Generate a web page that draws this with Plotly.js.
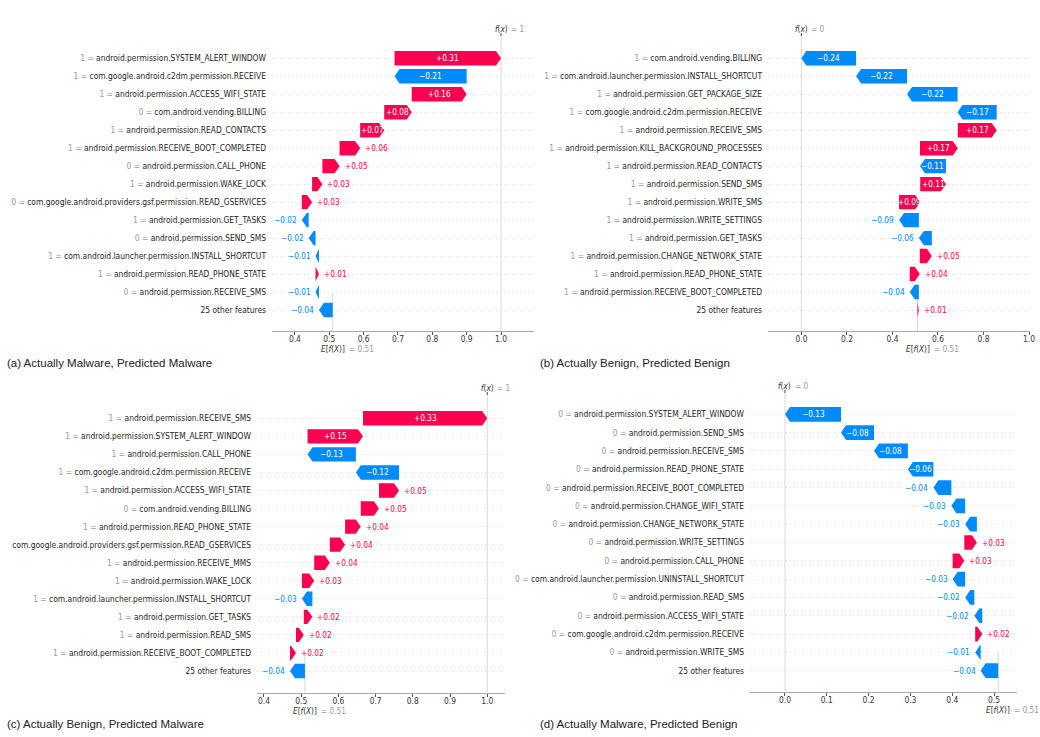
<!DOCTYPE html>
<html><head><meta charset="utf-8">
<script src="https://cdn.plot.ly/plotly-3.0.1.min.js"></script>
<style>html,body{margin:0;padding:0;background:#fff}</style>
</head><body><div id="chart" style="width:1040px;height:737px"></div>
<script>
// ---------- DATA (rows listed top to bottom) ----------
const a_caption = "(a) Actually Malware, Predicted Malware";
const a_base = 0.51;
const a_features = ["android.permission.SYSTEM_ALERT_WINDOW","com.google.android.c2dm.permission.RECEIVE","android.permission.ACCESS_WIFI_STATE","com.android.vending.BILLING","android.permission.READ_CONTACTS","android.permission.RECEIVE_BOOT_COMPLETED","android.permission.CALL_PHONE","android.permission.WAKE_LOCK","com.google.android.providers.gsf.permission.READ_GSERVICES","android.permission.GET_TASKS","android.permission.SEND_SMS","com.android.launcher.permission.INSTALL_SHORTCUT","android.permission.READ_PHONE_STATE","android.permission.RECEIVE_SMS","25 other features"];
const a_featureValues = ["1","1","1","0","1","1","0","1","0","1","0","1","1","0",""];
const a_shap = [0.31,-0.21,0.16,0.08,0.07,0.06,0.05,0.03,0.03,-0.02,-0.02,-0.01,0.01,-0.01,-0.04];
const a_ticks = [0.4,0.5,0.6,0.7,0.8,0.9,1.0];

const b_caption = "(b) Actually Benign, Predicted Benign";
const b_base = 0.51;
const b_features = ["com.android.vending.BILLING","com.android.launcher.permission.INSTALL_SHORTCUT","android.permission.GET_PACKAGE_SIZE","com.google.android.c2dm.permission.RECEIVE","android.permission.RECEIVE_SMS","android.permission.KILL_BACKGROUND_PROCESSES","android.permission.READ_CONTACTS","android.permission.SEND_SMS","android.permission.WRITE_SMS","android.permission.WRITE_SETTINGS","android.permission.GET_TASKS","android.permission.CHANGE_NETWORK_STATE","android.permission.READ_PHONE_STATE","android.permission.RECEIVE_BOOT_COMPLETED","25 other features"];
const b_featureValues = ["1","1","1","1","1","1","1","1","1","1","1","1","1","1",""];
const b_shap = [-0.2405,-0.224,-0.222,-0.172,0.171,0.166,-0.114,0.113,0.093,-0.087,-0.057,0.053,0.044,-0.04,0.006];
const b_ticks = [0.0,0.2,0.4,0.6,0.8,1.0];

const c_caption = "(c) Actually Benign, Predicted Malware";
const c_base = 0.51;
const c_features = ["android.permission.RECEIVE_SMS","android.permission.SYSTEM_ALERT_WINDOW","android.permission.CALL_PHONE","com.google.android.c2dm.permission.RECEIVE","android.permission.ACCESS_WIFI_STATE","com.android.vending.BILLING","android.permission.READ_PHONE_STATE","com.google.android.providers.gsf.permission.READ_GSERVICES","android.permission.RECEIVE_MMS","android.permission.WAKE_LOCK","com.android.launcher.permission.INSTALL_SHORTCUT","android.permission.GET_TASKS","android.permission.READ_SMS","android.permission.RECEIVE_BOOT_COMPLETED","25 other features"];
const c_featureValues = ["1","1","1","1","1","0","1","","1","1","1","1","1","1",""];
const c_shap = [0.334,0.149,-0.13,-0.116,0.054,0.049,0.042,0.041,0.042,0.033,-0.028,0.023,0.021,0.016,-0.04];
const c_ticks = [0.4,0.5,0.6,0.7,0.8,0.9,1.0];

const d_caption = "(d) Actually Malware, Predicted Benign";
const d_base = 0.51;
const d_features = ["android.permission.SYSTEM_ALERT_WINDOW","android.permission.SEND_SMS","android.permission.RECEIVE_SMS","android.permission.READ_PHONE_STATE","android.permission.RECEIVE_BOOT_COMPLETED","android.permission.CHANGE_WIFI_STATE","android.permission.CHANGE_NETWORK_STATE","android.permission.WRITE_SETTINGS","android.permission.CALL_PHONE","com.android.launcher.permission.UNINSTALL_SHORTCUT","android.permission.READ_SMS","android.permission.ACCESS_WIFI_STATE","com.google.android.c2dm.permission.RECEIVE","android.permission.WRITE_SMS","25 other features"];
const d_featureValues = ["0","0","0","0","0","0","0","0","0","0","0","0","0","0",""];
const d_shap = [-0.134,-0.079,-0.081,-0.061,-0.043,-0.033,-0.028,0.03,0.028,-0.03,-0.022,-0.019,0.017,-0.013,-0.042];
const d_ticks = [0.0,0.1,0.2,0.3,0.4,0.5];

// ---------- STYLE / LAYOUT ----------
const W = 1040, H = 737;
const RED = '#ff0051', BLUE = '#008bfb';
const FONT = 'DejaVu Sans Condensed, DejaVu Sans, sans-serif';
const CAP_FONT = 'Liberation Sans, Arial, sans-serif';
const HALF = 0.4, HEAD_PX = 5, FIT_PX = 21;

const panels = [
  {features:a_features, fv:a_featureValues, shap:a_shap, base:a_base, ticks:a_ticks, caption:a_caption,
   box:{left:272,right:534,top:36,bottom:331,row0:58.3,rowN:310}, xr:[0.3333,1.096], cap:[5,363]},
  {features:b_features, fv:b_featureValues, shap:b_shap, base:b_base, ticks:b_ticks, caption:b_caption,
   box:{left:768,right:1030,top:36,bottom:331,row0:58.3,rowN:310}, xr:[-0.147,1.0044], cap:[538,363]},
  {features:c_features, fv:c_featureValues, shap:c_shap, base:c_base, ticks:c_ticks, caption:c_caption,
   box:{left:257,right:505,top:395,bottom:692.7,row0:418.3,rowN:671}, xr:[0.3812,1.0478], cap:[5,724]},
  {features:d_features, fv:d_featureValues, shap:d_shap, base:d_base, ticks:d_ticks, caption:d_caption,
   box:{left:750,right:1017,top:393,bottom:691.7,row0:414.3,rowN:670.7}, xr:[-0.0837,0.555], cap:[538,724]}
];

function fmtNum(v){ return String(+(+v).toFixed(3)); }
function fmtShap(v){ return (v >= 0 ? '+' : '\u2212') + Math.abs(v).toFixed(2); }

const traces = [], shapes = [], annotations = [];
const layout = {
  width: W, height: H, margin:{l:0,r:0,t:0,b:0}, paper_bgcolor:'#fff', plot_bgcolor:'rgba(0,0,0,0)',
  showlegend:false, font:{family:FONT, color:'#333'}
};

panels.forEach((p, k) => {
  const sfx = k === 0 ? '' : String(k+1);
  const xa = 'x' + sfx, ya = 'y' + sfx;
  const n = p.shap.length, b = p.box;
  const sp = (b.rowN - b.row0) / (n - 1);
  const yrange = [(n-1) + (b.bottom - b.rowN)/sp, -(b.row0 - b.top)/sp];
  const pxPerUnit = (b.right - b.left) / (p.xr[1] - p.xr[0]);
  const hl = HEAD_PX / pxPerUnit;

  // cumulative positions from bottom (base value) up to f(x)
  const starts = new Array(n), ends = new Array(n);
  let pos = p.base;
  for (let i = n-1; i >= 0; i--) { starts[i] = pos; pos += p.shap[i]; ends[i] = pos; }
  const fx = pos;

  const red = {x:[], y:[]}, blue = {x:[], y:[]};
  for (let i = 0; i < n; i++) {
    const v = p.shap[i], s = starts[i], e = ends[i], dir = v >= 0 ? 1 : -1;
    const h = Math.min(hl, Math.abs(v));
    const neck = e - dir*h;
    const tgt = v >= 0 ? red : blue;
    tgt.x.push(s, neck, e, neck, s, s, null);
    tgt.y.push(i-HALF, i-HALF, i, i+HALF, i+HALF, i-HALF, null);
    const col = v >= 0 ? RED : BLUE;
    const inside = Math.abs(v) * pxPerUnit > FIT_PX;
    annotations.push(inside ? {
      xref:xa, yref:ya, x:(s+e)/2, y:i, text:fmtShap(v), showarrow:false, xanchor:'center', yanchor:'middle',
      font:{family:FONT, size:8.2, color:'#ffffff'}
    } : {
      xref:xa, yref:ya, x:e, y:i, text:fmtShap(v), showarrow:false, xanchor: v>=0 ? 'left':'right', yanchor:'middle',
      xshift: v>=0 ? 3 : -3, font:{family:FONT, size:8.2, color:col}
    });
  }
  [[red, RED],[blue, BLUE]].forEach(([d, c]) => traces.push({
    type:'scatter', mode:'lines', x:d.x, y:d.y, xaxis:xa, yaxis:ya, fill:'toself', fillcolor:c,
    line:{width:0, color:c}, hoverinfo:'skip', connectgaps:false
  }));

  const tickvals = p.features.map((_, i) => i);
  const ticktext = p.features.map((f, i) => p.fv[i] !== '' ? '<span style="color:#999999">' + p.fv[i] + ' = </span>' + f : f);

  layout['xaxis' + sfx] = {
    domain:[b.left/W, b.right/W], range:p.xr, anchor:ya, tickmode:'array', tickvals:p.ticks, tickformat:'.1f',
    ticks:'outside', ticklen:3, tickwidth:1, tickcolor:'#555', showline:true, linecolor:'#aaaaaa', linewidth:1.3,
    ticklabelstandoff:-3,
    showgrid:false, zeroline:false, tickfont:{family:FONT, size:8.4, color:'#333'}, fixedrange:true
  };
  layout['yaxis' + sfx] = {
    domain:[1 - b.bottom/H, 1 - b.top/H], range:yrange, anchor:xa, tickmode:'array', tickvals:tickvals, ticktext:ticktext,
    showgrid:true, gridcolor:'#d6d6d6', griddash:'1px,3px', gridwidth:1, zeroline:false, showline:false, ticks:'',
    ticklabelstandoff:5, tickfont:{family:FONT, size:8.4, color:'#1e1e1e'}, fixedrange:true
  };

  // reference lines
  shapes.push({type:'line', xref:xa, yref:ya+' domain', x0:fx, x1:fx, y0:0, y1:1, layer:'below',
               line:{color:'#d9d9d9', width:1}});
  shapes.push({type:'line', xref:xa, yref:ya+' domain', x0:fx, x1:fx, y0:1, y1:1 + 3/(b.bottom-b.top),
               line:{color:'#444', width:1}});
  shapes.push({type:'line', xref:xa, yref:ya, x0:p.base, x1:p.base, y0:yrange[0], y1:n-2, layer:'below',
               line:{color:'#d9d9d9', width:1}});

  // f(x) and E[f(X)] labels
  annotations.push({xref:xa, yref:ya+' domain', x:fx, y:1, yanchor:'bottom', yshift:0, xanchor:'center', showarrow:false,
                    text:'<i>f</i>(<i>x</i>)', font:{family:FONT, size:8.2, color:'#333'}});
  annotations.push({xref:xa, yref:ya+' domain', x:fx, y:1, yanchor:'bottom', yshift:0, xanchor:'left', xshift:8, showarrow:false,
                    text:'= ' + fmtNum(fx), font:{family:FONT, size:8.2, color:'#999999'}});
  annotations.push({xref:xa, yref:ya+' domain', x:p.base, y:0, yanchor:'top', yshift:-11, xanchor:'center', showarrow:false,
                    text:'<i>E</i>[<i>f</i>(<i>X</i>)]', font:{family:FONT, size:8.2, color:'#333'}});
  annotations.push({xref:xa, yref:ya+' domain', x:p.base, y:0, yanchor:'top', yshift:-11, xanchor:'left', xshift:14, showarrow:false,
                    text:'= ' + fmtNum(p.base), font:{family:FONT, size:8.2, color:'#999999'}});

  // caption
  annotations.push({xref:'paper', yref:'paper', x:p.cap[0]/W, y:1 - p.cap[1]/H, xanchor:'left', yanchor:'middle', showarrow:false,
                    text:p.caption, font:{family:CAP_FONT, size:11.5, color:'#222'}});
});

layout.shapes = shapes;
layout.annotations = annotations;
Plotly.newPlot('chart', traces, layout, {staticPlot:true, displayModeBar:false});
</script></body></html>
